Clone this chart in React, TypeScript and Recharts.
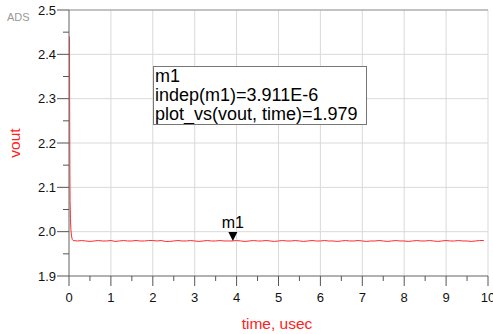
import React from "react";
import { LineChart, Line, XAxis, YAxis, CartesianGrid, ReferenceDot, ReferenceLine } from "recharts";

const transientTime = [0.012, 0.015, 0.02, 0.025, 0.035, 0.045, 0.06, 0.08, 0.1];
const transientVout = [2.44, 2.3, 2.15, 2.07, 2.03, 2.005, 1.99, 1.982, 1.98];

const steadyTime = [
  0.2, 0.3, 0.4, 0.5, 0.6, 0.7, 0.8, 0.9, 1.0, 1.1, 1.2, 1.3, 1.4, 1.5, 1.6, 1.7, 1.8, 1.9, 2.0,
  2.1, 2.2, 2.3, 2.4, 2.5, 2.6, 2.7, 2.8, 2.9, 3.0, 3.1, 3.2, 3.3, 3.4, 3.5, 3.6, 3.7, 3.8, 3.9, 4.0,
  4.1, 4.2, 4.3, 4.4, 4.5, 4.6, 4.7, 4.8, 4.9, 5.0, 5.1, 5.2, 5.3, 5.4, 5.5, 5.6, 5.7, 5.8, 5.9, 6.0,
  6.1, 6.2, 6.3, 6.4, 6.5, 6.6, 6.7, 6.8, 6.9, 7.0, 7.1, 7.2, 7.3, 7.4, 7.5, 7.6, 7.7, 7.8, 7.9, 8.0,
  8.1, 8.2, 8.3, 8.4, 8.5, 8.6, 8.7, 8.8, 8.9, 9.0, 9.1, 9.2, 9.3, 9.4, 9.5, 9.6, 9.7, 9.8, 9.9, 10.0,
];
const steadyVout = [
  1.979, 1.980, 1.979, 1.978, 1.979, 1.980, 1.979, 1.979, 1.980, 1.978, 1.979, 1.980, 1.979, 1.979, 1.980, 1.979, 1.979, 1.980, 1.980,
  1.979, 1.980, 1.978, 1.978, 1.979, 1.980, 1.979, 1.979, 1.980, 1.979, 1.978, 1.979, 1.980, 1.979, 1.979, 1.980, 1.979, 1.979, 1.979, 1.980,
  1.979, 1.978, 1.979, 1.980, 1.979, 1.979, 1.980, 1.979, 1.978, 1.979, 1.980, 1.979, 1.979, 1.980, 1.979, 1.978, 1.979, 1.980, 1.979, 1.979,
  1.980, 1.979, 1.979, 1.978, 1.979, 1.980, 1.979, 1.979, 1.980, 1.979, 1.978, 1.979, 1.979, 1.980, 1.979, 1.978, 1.979, 1.980, 1.979, 1.979,
  1.978, 1.979, 1.980, 1.979, 1.979, 1.980, 1.979, 1.978, 1.979, 1.980, 1.979, 1.979, 1.980, 1.979, 1.979, 1.978, 1.979, 1.980, 1.980,
];

const xTicks = [0, 0.5, 1, 1.5, 2, 2.5, 3, 3.5, 4, 4.5, 5, 5.5, 6, 6.5, 7, 7.5, 8, 8.5, 9, 9.5, 10];
const xMajor = [0, 1, 2, 3, 4, 5, 6, 7, 8, 9, 10];
const yTicks = [1.9, 1.95, 2.0, 2.05, 2.1, 2.15, 2.2, 2.25, 2.3, 2.35, 2.4, 2.45, 2.5];
const yMajor = [1.9, 2.0, 2.1, 2.2, 2.3, 2.4, 2.5];

const markerTime = 3.911;
const markerValue = 1.979;
const markerName = "m1";
const annotationLines = ["m1", "indep(m1)=3.911E-6", "plot_vs(vout, time)=1.979"];

const data = [
  ...transientTime.map((t, i) => ({ t, v: transientVout[i] })),
  ...steadyTime.map((t, i) => ({ t, v: steadyVout[i] })),
];

const FONT = "'Liberation Sans', Arial, sans-serif";
const isMajor = (v: number, step: number) => Math.abs(v / step - Math.round(v / step)) < 1e-6;

const YTick = (props: any) => {
  const { x, y, payload } = props;
  const major = isMajor(payload.value, 0.1);
  return (
    <g>
      <line x1={x - (major ? 12 : 6)} x2={x} y1={y} y2={y} stroke="#555" strokeWidth={1} />
      {major && (
        <text x={x - 13} y={y} dy={4.5} textAnchor="end" fontSize={13} fontFamily={FONT} fill="#111">
          {payload.value.toFixed(1)}
        </text>
      )}
    </g>
  );
};

const XTick = (props: any) => {
  const { x, y, payload } = props;
  const major = isMajor(payload.value, 1);
  return (
    <g>
      <line x1={x} x2={x} y1={y} y2={y + (major ? 10 : 5)} stroke="#555" strokeWidth={1} />
      {major && (
        <text x={x} y={y + 26} textAnchor="middle" fontSize={13} fontFamily={FONT} fill="#111">
          {String(payload.value)}
        </text>
      )}
    </g>
  );
};

const MarkerShape = (props: any) => {
  const { cx, cy } = props;
  return (
    <g>
      <path d={`M${cx - 4.5},${cy - 9} L${cx + 4.5},${cy - 9} L${cx},${cy} Z`} fill="#000" />
      <text x={cx} y={cy - 13} textAnchor="middle" fontSize={16} fontFamily={FONT} fill="#000">
        {markerName}
      </text>
    </g>
  );
};

export default function App() {
  return (
    <div style={{ position: "absolute", left: 0, top: 0, width: 493, height: 334, background: "#fff", fontFamily: FONT }}>
      <LineChart width={493} height={334} data={data} margin={{ top: 10, right: 5, bottom: 28, left: 0 }}>
        <CartesianGrid stroke="#d9d9d9" horizontalValues={yMajor} verticalValues={xMajor} />
        <ReferenceLine y={2.5} stroke="#999" />
        <XAxis
          dataKey="t"
          type="number"
          domain={[0, 10]}
          ticks={xTicks}
          interval={0}
          tickLine={false}
          tickSize={0}
          tickMargin={0}
          height={30}
          stroke="#777"
          tick={<XTick />}
        />
        <YAxis
          type="number"
          domain={[1.9, 2.5]}
          ticks={yTicks}
          interval={0}
          tickLine={false}
          tickSize={0}
          tickMargin={0}
          width={69}
          stroke="#777"
          tick={<YTick />}
        />
        <Line dataKey="v" type="linear" stroke="#ff2a2a" strokeWidth={1} dot={false} isAnimationActive={false} />
        <ReferenceDot x={markerTime} y={markerValue} shape={<MarkerShape />} />
      </LineChart>
      <div style={{ position: "absolute", left: 7, top: 11, fontSize: 11, color: "#999" }}>ADS</div>
      <div
        style={{
          position: "absolute",
          left: 15,
          top: 143,
          transform: "translate(-50%, -50%) rotate(-90deg)",
          fontSize: 15.5,
          color: "#ff2020",
          whiteSpace: "nowrap",
        }}
      >
        vout
      </div>
      <div
        style={{
          position: "absolute",
          left: 277,
          top: 324,
          transform: "translate(-50%, -50%)",
          fontSize: 15.5,
          color: "#ff2020",
          whiteSpace: "nowrap",
        }}
      >
        time, usec
      </div>
      <div
        style={{
          position: "absolute",
          left: 153,
          top: 66,
          width: 211,
          height: 57,
          border: "1px solid #777",
          background: "#fff",
          fontSize: 18,
          lineHeight: "19px",
          paddingLeft: 1,
          color: "#000",
          boxSizing: "content-box",
          overflow: "hidden",
        }}
      >
        {annotationLines.map((l) => (
          <div key={l} style={{ whiteSpace: "nowrap" }}>{l}</div>
        ))}
      </div>
    </div>
  );
}
